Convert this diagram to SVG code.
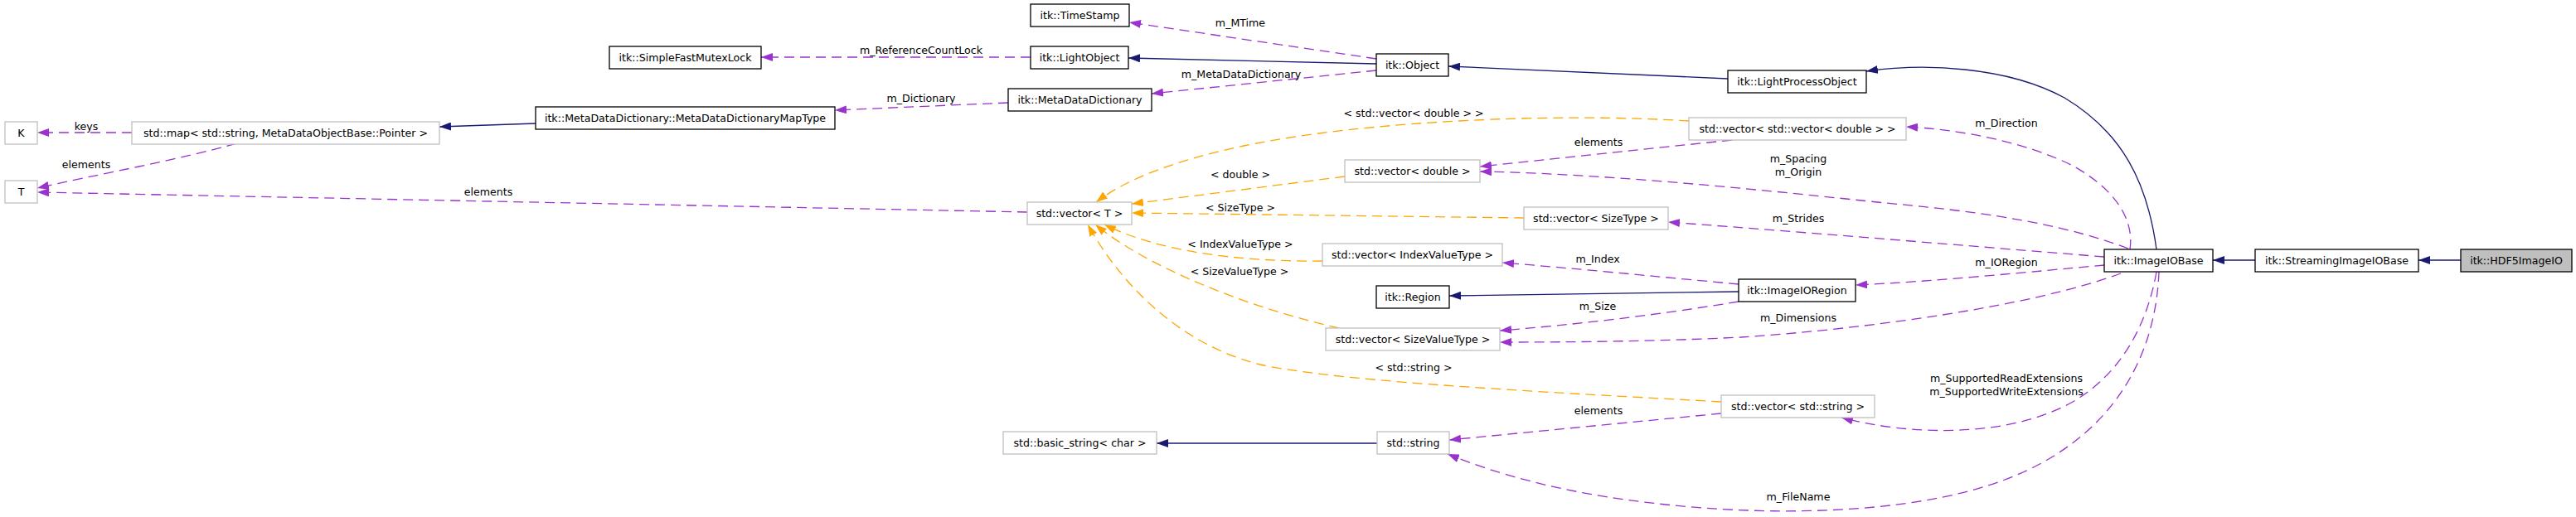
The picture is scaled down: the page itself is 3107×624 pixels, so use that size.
<svg xmlns="http://www.w3.org/2000/svg" width="3107" height="624" viewBox="0 0 3107 624">
<style>
.n rect{fill:#ffffff;stroke:#000000;stroke-width:1.3}
.u rect{stroke:#bfbfbf}
.hl rect{fill:#bfbfbf}
text{font-family:"DejaVu Sans","Liberation Sans",sans-serif;font-size:12.6px;fill:#000000;text-anchor:middle}
.inh{fill:none;stroke:#191970;stroke-width:1.3;marker-end:url(#ai)}
.use{fill:none;stroke:#9a32cd;stroke-width:1.3;stroke-dasharray:12,7;marker-end:url(#au)}
.tpl{fill:none;stroke:#ffa500;stroke-width:1.3;stroke-dasharray:12,7;marker-end:url(#at)}
</style>
<defs>
<marker id="ai" markerUnits="userSpaceOnUse" viewBox="0 0 14 10" markerWidth="14" markerHeight="10" refX="14" refY="5" orient="auto"><path d="M0,0 L14,5 L0,10 z" fill="#191970"/></marker>
<marker id="au" markerUnits="userSpaceOnUse" viewBox="0 0 14 10" markerWidth="14" markerHeight="10" refX="14" refY="5" orient="auto"><path d="M0,0 L14,5 L0,10 z" fill="#9a32cd"/></marker>
<marker id="at" markerUnits="userSpaceOnUse" viewBox="0 0 14 10" markerWidth="14" markerHeight="10" refX="14" refY="5" orient="auto"><path d="M0,0 L14,5 L0,10 z" fill="#ffa500"/></marker>
</defs>
<rect x="0" y="0" width="3107" height="624" fill="#ffffff"/>
<g id="edges">
<path class="use" d="M159,160 L45,160"/>
<path class="use" d="M285,173 C220,192 110,212 45,227"/>
<path class="use" d="M1239,256 L45,232"/>
<path class="inh" d="M646,149 L530,153"/>
<path class="use" d="M1216,124 L1007,133"/>
<path class="use" d="M1243,69 L918,69"/>
<path class="inh" d="M1660,77 L1361,70"/>
<path class="use" d="M1660,71 L1362,27"/>
<path class="use" d="M1660,85 L1389,113"/>
<path class="inh" d="M2084,95 L1747,80"/>
<path class="inh" d="M2601,301 C2590,220 2560,160 2490,118 C2420,80 2320,76 2251,86"/>
<path class="use" d="M2569,301 C2575,260 2545,225 2500,200 C2440,170 2360,156 2299,153"/>
<path class="use" d="M2089,169 L1785,201"/>
<path class="use" d="M2567,300 C2500,275 2420,258 2274,245 C2150,232 1950,210 1785,207"/>
<path class="tpl" d="M2037,146 C1880,136 1650,145 1500,176 C1420,193 1360,215 1322,244"/>
<path class="tpl" d="M1622,213 L1365,246"/>
<path class="tpl" d="M1838,263 L1365,257"/>
<path class="tpl" d="M1595,315 C1500,316 1400,305 1332,271"/>
<path class="tpl" d="M1615,396 C1500,370 1380,320 1321,271"/>
<path class="tpl" d="M2076,485 C1900,475 1620,462 1520,440 C1420,415 1350,340 1312,271"/>
<path class="use" d="M2538,310 C2450,303 2200,282 2012,268"/>
<path class="use" d="M2538,320 C2450,328 2330,340 2238,344"/>
<path class="use" d="M2097,343 C2000,334 1900,324 1812,317"/>
<path class="inh" d="M2097,352 L1748,357"/>
<path class="use" d="M2097,364 C2000,380 1900,392 1809,399"/>
<path class="use" d="M2558,330 C2450,370 2250,397 2100,407 C2000,412 1900,413 1809,413"/>
<path class="use" d="M2601,328 C2590,390 2560,450 2500,485 C2420,530 2300,525 2221,504"/>
<path class="use" d="M2604,328 C2600,430 2550,520 2440,570 C2330,620 2150,625 2000,608 C1880,595 1800,570 1746,548"/>
<path class="use" d="M2076,499 L1748,531"/>
<path class="inh" d="M1661,535 L1395,535"/>
<path class="inh" d="M2720,314 L2669,314"/>
<path class="inh" d="M2968,314 L2917,314"/>
</g>
<g id="edge-labels">
<text x="104" y="157">keys</text>
<text x="104" y="203">elements</text>
<text x="589" y="236">elements</text>
<text x="1111" y="65">m_ReferenceCountLock</text>
<text x="1111" y="123">m_Dictionary</text>
<text x="1496" y="32">m_MTime</text>
<text x="1497" y="94">m_MetaDataDictionary</text>
<text x="1705" y="141">&lt; std::vector&lt; double &gt; &gt;</text>
<text x="1928" y="176">elements</text>
<text x="2420" y="153">m_Direction</text>
<text x="1496" y="215">&lt; double &gt;</text>
<text x="2169" y="196">m_Spacing</text>
<text x="2169" y="212">m_Origin</text>
<text x="1496" y="255">&lt; SizeType &gt;</text>
<text x="2169" y="268">m_Strides</text>
<text x="1496" y="299">&lt; IndexValueType &gt;</text>
<text x="1927" y="317">m_Index</text>
<text x="2420" y="321">m_IORegion</text>
<text x="1495" y="332">&lt; SizeValueType &gt;</text>
<text x="1927" y="374">m_Size</text>
<text x="2169" y="388">m_Dimensions</text>
<text x="1705" y="448">&lt; std::string &gt;</text>
<text x="2420" y="461">m_SupportedReadExtensions</text>
<text x="2420" y="477">m_SupportedWriteExtensions</text>
<text x="1928" y="500">elements</text>
<text x="2169" y="604">m_FileName</text>
</g>
<g id="node-K" class="n u"><rect x="6" y="147" width="39" height="27"/><text x="25.5" y="165">K</text></g>
<g id="node-T" class="n u"><rect x="6" y="218" width="39" height="27"/><text x="25.5" y="236">T</text></g>
<g id="node-stdmap" class="n u"><rect x="159" y="147" width="371" height="27"/><text x="344.5" y="165">std::map&lt; std::string, MetaDataObjectBase::Pointer &gt;</text></g>
<g id="node-MapType" class="n"><rect x="646" y="129" width="361" height="27"/><text x="826.5" y="147">itk::MetaDataDictionary::MetaDataDictionaryMapType</text></g>
<g id="node-SimpleFastMutexLock" class="n"><rect x="735" y="56" width="183" height="27"/><text x="826.5" y="74">itk::SimpleFastMutexLock</text></g>
<g id="node-TimeStamp" class="n"><rect x="1243" y="5" width="119" height="27"/><text x="1302.5" y="23">itk::TimeStamp</text></g>
<g id="node-LightObject" class="n"><rect x="1243" y="56" width="118" height="27"/><text x="1302" y="74">itk::LightObject</text></g>
<g id="node-MetaDataDictionary" class="n"><rect x="1216" y="107" width="173" height="27"/><text x="1302.5" y="125">itk::MetaDataDictionary</text></g>
<g id="node-Object" class="n"><rect x="1660" y="65" width="87" height="27"/><text x="1703.5" y="83">itk::Object</text></g>
<g id="node-LightProcessObject" class="n"><rect x="2084" y="85" width="167" height="27"/><text x="2167.5" y="103">itk::LightProcessObject</text></g>
<g id="node-vecvecdouble" class="n u"><rect x="2037" y="142" width="262" height="27"/><text x="2168" y="160">std::vector&lt; std::vector&lt; double &gt; &gt;</text></g>
<g id="node-vecdouble" class="n u"><rect x="1622" y="193" width="163" height="27"/><text x="1703.5" y="211">std::vector&lt; double &gt;</text></g>
<g id="node-vecT" class="n u"><rect x="1239" y="244" width="126" height="27"/><text x="1302" y="262">std::vector&lt; T &gt;</text></g>
<g id="node-vecSizeType" class="n u"><rect x="1838" y="250" width="174" height="27"/><text x="1925" y="268">std::vector&lt; SizeType &gt;</text></g>
<g id="node-vecIndexValueType" class="n u"><rect x="1595" y="294" width="217" height="27"/><text x="1703.5" y="312">std::vector&lt; IndexValueType &gt;</text></g>
<g id="node-ImageIORegion" class="n"><rect x="2097" y="337" width="141" height="27"/><text x="2167.5" y="355">itk::ImageIORegion</text></g>
<g id="node-Region" class="n"><rect x="1660" y="345" width="88" height="27"/><text x="1704" y="363">itk::Region</text></g>
<g id="node-vecSizeValueType" class="n u"><rect x="1599" y="396" width="210" height="27"/><text x="1704" y="414">std::vector&lt; SizeValueType &gt;</text></g>
<g id="node-vecstring" class="n u"><rect x="2076" y="477" width="185" height="27"/><text x="2168.5" y="495">std::vector&lt; std::string &gt;</text></g>
<g id="node-string" class="n u"><rect x="1661" y="521" width="87" height="27"/><text x="1704.5" y="539">std::string</text></g>
<g id="node-basicstring" class="n u"><rect x="1210" y="521" width="185" height="27"/><text x="1302.5" y="539">std::basic_string&lt; char &gt;</text></g>
<g id="node-ImageIOBase" class="n"><rect x="2538" y="301" width="131" height="27"/><text x="2603.5" y="319">itk::ImageIOBase</text></g>
<g id="node-StreamingImageIOBase" class="n"><rect x="2720" y="301" width="197" height="27"/><text x="2818.5" y="319">itk::StreamingImageIOBase</text></g>
<g id="node-HDF5ImageIO" class="n hl"><rect x="2968" y="301" width="134" height="27"/><text x="3035" y="319">itk::HDF5ImageIO</text></g>
</svg>
